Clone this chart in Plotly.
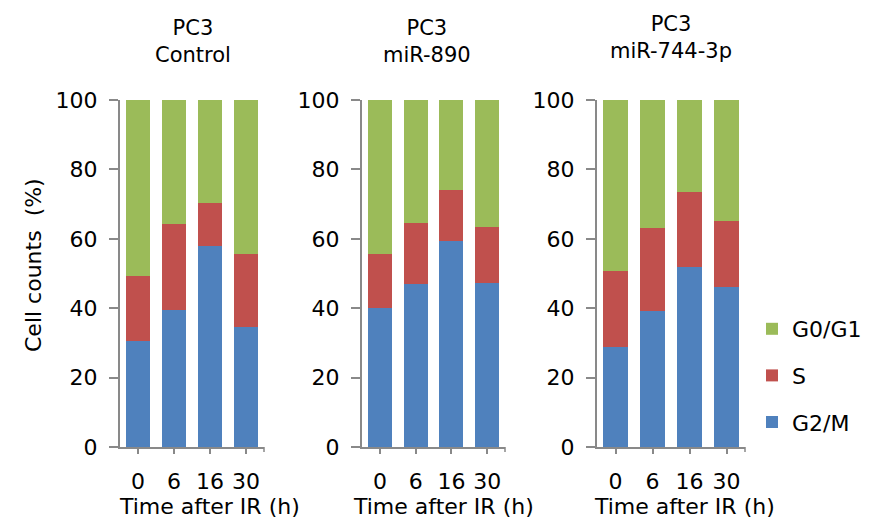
import plotly.graph_objects as go

times = ["0", "6", "16", "30"]
panels = ["PC3<br>Control", "PC3<br>miR-890", "PC3<br>miR-744-3p"]
series = ["G2/M", "S", "G0/G1"]
colors = {"G2/M": "#4F81BD", "S": "#C0504D", "G0/G1": "#9BBB59"}
legend_rank = {"G0/G1": 1, "S": 2, "G2/M": 3}

# percentages per panel
g2m = [[30.5, 39.5, 57.9, 34.5],
       [40.1, 46.9, 59.5, 47.3],
       [28.9, 39.1, 51.8, 46.0]]
s_ph = [[18.9, 24.8, 12.4, 21.0],
        [15.6, 17.7, 14.5, 16.1],
        [21.8, 24.1, 21.8, 19.2]]
g0g1 = [[50.6, 35.7, 29.7, 44.5],
        [44.3, 35.4, 26.0, 36.6],
        [49.3, 36.8, 26.4, 34.8]]

data = {"G2/M": g2m, "S": s_ph, "G0/G1": g0g1}

FONT = "DejaVu Sans, Arial, sans-serif"
W, H = 875, 525
xdom = [(120, 264), (362, 505), (597, 745)]
ytop, ybot = 100, 447
title_pos = [(193, 42), (427, 42), (671, 37)]
xtitle_pos = [209, 443, 684]

fig = go.Figure()
for p in range(3):
    xa = "x" if p == 0 else f"x{p+1}"
    ya = "y" if p == 0 else f"y{p+1}"
    for name in series:
        fig.add_trace(go.Bar(
            x=times, y=data[name][p], name=name,
            marker=dict(color=colors[name], line=dict(width=0)),
            xaxis=xa, yaxis=ya, showlegend=(p == 0), legendgroup=name,
            legendrank=legend_rank[name],
        ))

layout = dict(
    width=W, height=H, barmode="stack", bargap=1/3,
    margin=dict(l=0, r=0, t=0, b=0, autoexpand=False),
    paper_bgcolor="white", plot_bgcolor="white",
    font=dict(family=FONT, size=21, color="black"),
    legend=dict(x=752/W, y=1 - 308/H, xanchor="left", yanchor="top",
                traceorder="grouped", tracegroupgap=15,
                font=dict(size=22), bgcolor="rgba(0,0,0,0)"),
)
axcol = "#898989"
for p in range(3):
    sx = "" if p == 0 else str(p + 1)
    layout[f"xaxis{sx}"] = dict(
        domain=[xdom[p][0] / W, xdom[p][1] / W], anchor=f"y{sx}",
        type="category", range=[-0.5, 3.5], showline=True, linecolor=axcol,
        linewidth=2, ticks="outside", ticklen=5, tickcolor=axcol, tickwidth=1.5,
        showgrid=False, zeroline=False, ticklabelstandoff=9, automargin=False,
        tickfont=dict(size=22),
    )
    layout[f"yaxis{sx}"] = dict(
        domain=[1 - ybot / H, 1 - ytop / H], anchor=f"x{sx}",
        range=[0, 100], dtick=20, showline=True, linecolor=axcol,
        linewidth=2, ticks="outside", ticklen=9, tickcolor=axcol, tickwidth=1.5,
        showgrid=False, zeroline=False, ticklabelstandoff=7, automargin=False,
        tickfont=dict(size=22),
    )
fig.update_layout(**layout)

ann = []
for p in range(3):
    ann.append(dict(text=panels[p], x=title_pos[p][0] / W, y=1 - title_pos[p][1] / H,
                    xref="paper", yref="paper", showarrow=False,
                    xanchor="center", yanchor="middle", font=dict(size=21)))
    ann.append(dict(text="Time after IR (h)", x=xtitle_pos[p] / W, y=1 - 506 / H,
                    xref="paper", yref="paper", showarrow=False,
                    xanchor="center", yanchor="middle", font=dict(size=22)))
ann.append(dict(text="Cell counts  (%)", x=33 / W, y=1 - 265 / H, textangle=-90,
                xref="paper", yref="paper", showarrow=False,
                xanchor="center", yanchor="middle", font=dict(size=22)))
fig.update_layout(annotations=ann)

shapes = []
for p in range(3):
    shapes.append(dict(type="line", xref="paper", yref="paper",
                       x0=xdom[p][1] / W, x1=xdom[p][1] / W,
                       y0=1 - ybot / H, y1=1 - (ybot + 5) / H,
                       line=dict(color=axcol, width=1.5)))
fig.update_layout(shapes=shapes)

fig.write_html("out.html")
